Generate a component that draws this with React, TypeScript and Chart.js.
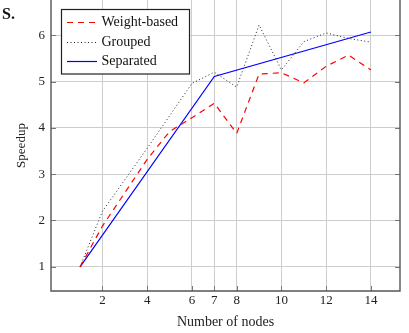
import React, { useEffect, useRef } from "react";
import { Chart, registerables } from "chart.js";

Chart.register(...registerables);

const seriesLabels = ["Weight-based", "Grouped", "Separated"];

const weightNodes = [1, 2, 4, 5, 6, 7, 8, 9, 10, 11, 12, 13, 14];
const weightSpeedup = [1, 1.88, 3.32, 3.92, 4.22, 4.53, 3.88, 5.16, 5.19, 4.97, 5.33, 5.57, 5.25];

const groupedNodes = [1, 2, 4, 6, 7, 8, 9, 10, 11, 12, 13, 14];
const groupedSpeedup = [1, 2.2, 3.56, 4.96, 5.2, 4.88, 6.22, 5.25, 5.86, 6.05, 5.93, 5.85];

const separatedNodes = [1, 7, 14];
const separatedSpeedup = [1, 5.11, 6.07];

const xTickValues = [2, 4, 6, 7, 8, 10, 12, 14];
const yTickValues = [1, 2, 3, 4, 5, 6];

const xTitle = "Number of nodes";
const yTitle = "Speedup";
const cornerText = "S.";

const FONT = '"Liberation Serif", "Times New Roman", serif';

const seriesStyles = [
  { color: "#ff0000", dash: [6, 5], width: 1.2 },
  { color: "#222222", dash: [1, 2.5], width: 1 },
  { color: "#0000ff", dash: [] as number[], width: 1.2 },
];

function toPoints(xs: number[], ys: number[]) {
  return xs.map((x, i) => ({ x, y: ys[i] }));
}

const framePlugin = {
  id: "framePlugin",
  afterDraw(chart: any) {
    const { ctx, chartArea } = chart;
    const { left, right, top, bottom } = chartArea;
    const xs = chart.scales.x;
    const ys = chart.scales.y;
    ctx.save();

    // inner tick marks
    ctx.strokeStyle = "#777";
    ctx.lineWidth = 1;
    ctx.setLineDash([]);
    ctx.beginPath();
    xTickValues.forEach((v) => {
      const px = Math.round(xs.getPixelForValue(v)) + 0.5;
      ctx.moveTo(px, bottom);
      ctx.lineTo(px, bottom - 5);
    });
    yTickValues.forEach((v) => {
      const py = Math.round(ys.getPixelForValue(v)) + 0.5;
      ctx.moveTo(left, py);
      ctx.lineTo(left + 5, py);
      ctx.moveTo(right, py);
      ctx.lineTo(right - 5, py);
    });
    ctx.stroke();

    // frame
    ctx.strokeStyle = "#555";
    ctx.lineWidth = 1.4;
    ctx.beginPath();
    ctx.moveTo(left, top);
    ctx.lineTo(left, bottom);
    ctx.lineTo(right, bottom);
    ctx.lineTo(right, top);
    ctx.stroke();

    // legend
    const bx = 61.5, by = 9.5, bw = 128, bh = 64.5;
    ctx.fillStyle = "#fff";
    ctx.fillRect(bx, by, bw, bh);
    ctx.strokeStyle = "#222";
    ctx.lineWidth = 1.2;
    ctx.strokeRect(bx, by, bw, bh);
    const rows = [22, 42, 61];
    chart.data.datasets.forEach((ds: any, i: number) => {
      const st = seriesStyles[i];
      ctx.strokeStyle = st.color;
      ctx.lineWidth = st.width;
      ctx.setLineDash(st.dash);
      ctx.beginPath();
      ctx.moveTo(67, rows[i] + 0.5);
      ctx.lineTo(97, rows[i] + 0.5);
      ctx.stroke();
      ctx.setLineDash([]);
      ctx.fillStyle = "#111";
      ctx.font = `14px ${FONT}`;
      ctx.textAlign = "left";
      ctx.textBaseline = "middle";
      ctx.fillText(ds.label, 101.5, rows[i]);
    });

    // corner text
    ctx.fillStyle = "#111";
    ctx.font = `bold 16px ${FONT}`;
    ctx.textAlign = "left";
    ctx.textBaseline = "alphabetic";
    ctx.fillText(cornerText, 2, 18.5);

    ctx.restore();
  },
};

export default function App() {
  const ref = useRef<HTMLCanvasElement>(null);
  useEffect(() => {
    document.body.style.margin = "0";
    const canvas = ref.current!;
    const chart = new Chart(canvas, {
      type: "line",
      data: {
        datasets: [
          { label: seriesLabels[0], data: toPoints(weightNodes, weightSpeedup) },
          { label: seriesLabels[1], data: toPoints(groupedNodes, groupedSpeedup) },
          { label: seriesLabels[2], data: toPoints(separatedNodes, separatedSpeedup) },
        ].map((d, i) => ({
          ...d,
          borderColor: seriesStyles[i].color,
          borderWidth: seriesStyles[i].width,
          borderDash: seriesStyles[i].dash,
          pointRadius: 0,
          tension: 0,
          fill: false,
        })),
      },
      options: {
        animation: false,
        responsive: false,
        devicePixelRatio: 1,
        layout: { padding: { left: 0, right: 9, top: 0, bottom: 0 } },
        plugins: { legend: { display: false }, tooltip: { enabled: false } },
        scales: {
          x: {
            type: "linear",
            min: -0.3,
            max: 15.3,
            afterBuildTicks: (s: any) => {
              s.ticks = xTickValues.map((v) => ({ value: v }));
            },
            afterFit: (s: any) => {
              s.height = 42;
              s.paddingLeft = 0;
              s.paddingRight = 0;
              s.paddingTop = 0;
              s.paddingBottom = 0;
            },
            grid: { color: "#cdcdcd", lineWidth: 1, drawTicks: false },
            border: { display: false },
            ticks: {
              autoSkip: false,
              maxRotation: 0,
              padding: 2,
              color: "#222",
              font: { family: FONT, size: 13 },
              callback: (v: any) => String(v),
            },
            title: {
              display: true,
              text: xTitle,
              color: "#222",
              font: { family: FONT, size: 14 },
              padding: { top: 0, bottom: 2 },
            },
          },
          y: {
            type: "linear",
            min: 0.478,
            max: 6.76,
            afterBuildTicks: (s: any) => {
              s.ticks = yTickValues.map((v) => ({ value: v }));
            },
            afterFit: (s: any) => {
              s.width = 51;
              s.paddingLeft = 0;
              s.paddingRight = 0;
              s.paddingTop = 0;
              s.paddingBottom = 0;
            },
            grid: { color: "#cdcdcd", lineWidth: 1, drawTicks: false },
            border: { display: false },
            ticks: {
              padding: 6,
              color: "#222",
              font: { family: FONT, size: 13 },
              callback: (v: any) => String(v),
            },
            title: {
              display: true,
              text: yTitle,
              color: "#222",
              font: { family: FONT, size: 13 },
              padding: { top: 14, bottom: 0 },
            },
          },
        },
      },
      plugins: [framePlugin],
    });
    return () => chart.destroy();
  }, []);
  return (
    <canvas
      ref={ref}
      width={409}
      height={333}
      style={{ display: "block", width: 409, height: 333 }}
    />
  );
}
